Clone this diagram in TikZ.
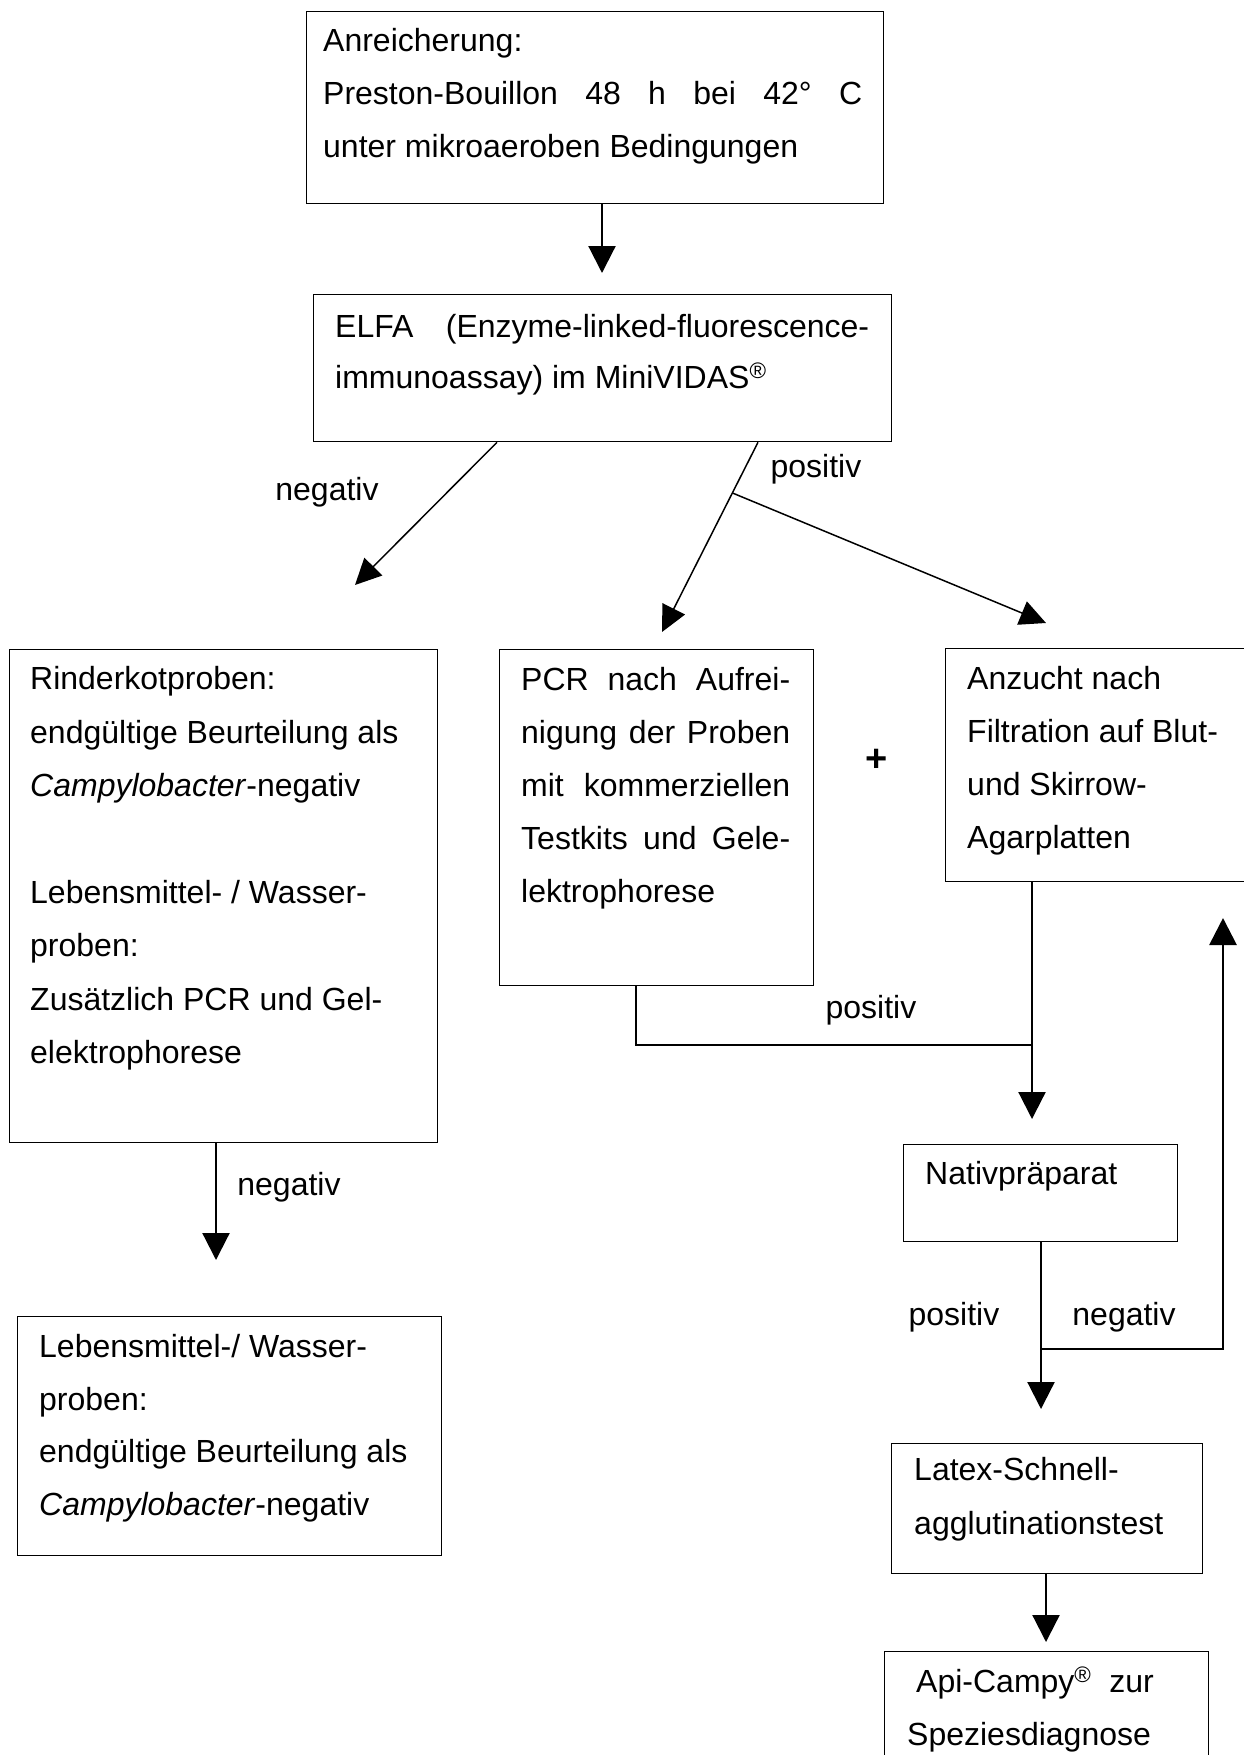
\documentclass[tikz,border=0pt]{standalone}
\usepackage{fontspec}
\setmainfont{Liberation Sans}
\usetikzlibrary{arrows.meta}
% a line of text spread to a given width
\newcommand\justline[2]{\makebox[#1][s]{#2}}
\begin{document}
\begin{tikzpicture}[x=1pt,y=-1pt,
  box/.style={draw, line width=1.3pt, inner sep=0pt, anchor=north west},
  txt/.style={inner sep=0pt, anchor=base west, font=\fontsize{32}{38}\selectfont},
  lbl/.style={inner sep=0pt, anchor=base, font=\fontsize{32}{38}\selectfont},
  arr/.style={line width=2.2pt, -{Triangle[length=27pt,width=27pt]}},
  darr/.style={line width=1.5pt, -{Triangle[length=26pt,width=25pt]}},
  link/.style={line width=2.2pt},
  back/.style={line width=2.8pt, -{Triangle[length=27pt,width=27pt]}}]
\useasboundingbox (0,0) rectangle (1244,1755);
\clip (0,0) rectangle (1244,1755);

% boxes
\node[box, minimum width=577pt, minimum height=192pt] (anr) at (306,11) {};
\node[box, minimum width=578pt, minimum height=147pt] (elfa) at (313,294) {};
\node[box, minimum width=428pt, minimum height=493pt] (rind) at (9,649) {};
\node[box, minimum width=314pt, minimum height=336pt] (pcr) at (499,649) {};
\node[box, minimum width=330pt, minimum height=233pt] (anz) at (945,648) {};
\node[box, minimum width=274pt, minimum height=97pt] (nativ) at (903,1144) {};
\node[box, minimum width=311pt, minimum height=130pt] (latex) at (891,1443) {};
\node[box, minimum width=324pt, minimum height=150pt] (api) at (884,1651) {};
\node[box, minimum width=424pt, minimum height=239pt] (lebm) at (17,1316) {};

% box texts
\node[txt] (anr1) at (323,52) {Anreicherung:};
\node[txt] (anr2) at (323,105) {\justline{539pt}{Preston-Bouillon 48 h bei 42° C}};
\node[txt] (anr3) at (323,158) {unter mikroaeroben Bedingungen};

\node[txt] (elfa1) at (335,337) {\justline{534pt}{ELFA (Enzyme-linked-fluorescence-}};
\node[txt] (elfa2) at (335,388) {immunoassay) im MiniVIDAS\textsuperscript{®}};

\node[txt] (rind1) at (30,689) {Rinderkotproben:};
\node[txt] (rind2) at (30,743) {endgültige Beurteilung als};
\node[txt] (rind3) at (30,796) {\textit{Campylobacter}-negativ};
\node[txt] (rind4) at (30,903) {Lebensmittel- / Wasser-};
\node[txt] (rind5) at (30,956) {proben:};
\node[txt] (rind6) at (30,1010) {Zusätzlich PCR und Gel-};
\node[txt] (rind7) at (30,1063) {elektrophorese};

\node[txt] (pcr1) at (521,690) {\justline{269pt}{PCR nach Aufrei-}};
\node[txt] (pcr2) at (521,743) {\justline{269pt}{nigung der Proben}};
\node[txt] (pcr3) at (521,796) {\justline{269pt}{mit kommerziellen}};
\node[txt] (pcr4) at (521,849) {\justline{269pt}{Testkits und Gele-}};
\node[txt] (pcr5) at (521,902) {lektrophorese};

\node[txt] (anz1) at (967,689) {Anzucht nach};
\node[txt] (anz2) at (967,742) {Filtration auf Blut-};
\node[txt] (anz3) at (967,795) {und Skirrow-};
\node[txt] (anz4) at (967,848) {Agarplatten};

\node[txt] (nativ1) at (925,1184) {Nativpräparat};

\node[txt] (latex1) at (914,1480) {Latex-Schnell-};
\node[txt] (latex2) at (914,1534) {agglutinationstest};

\node[txt] (api1) at (916,1692) {Api-Campy\textsuperscript{®}\ \ zur};
\node[txt] (api2) at (907,1745) {Speziesdiagnose};

\node[txt] (lebm1) at (39,1357) {Lebensmittel-/ Wasser-};
\node[txt] (lebm2) at (39,1410) {proben:};
\node[txt] (lebm3) at (39,1462) {endgültige Beurteilung als};
\node[txt] (lebm4) at (39,1515) {\textit{Campylobacter}-negativ};

% connector labels
\node[lbl] (lneg1) at (327,500) {negativ};
\node[lbl] (lpos1) at (816,477) {positiv};
\node[inner sep=0pt, font=\fontsize{38}{44}\selectfont\bfseries] (lplus) at (877,760) {+};
\node[lbl] (lpos2) at (871,1018) {positiv};
\node[lbl] (lneg2) at (289,1195) {negativ};
\node[lbl] (lpos3) at (954,1325) {positiv};
\node[lbl] (lneg3) at (1124,1325) {negativ};

% connector ends
\coordinate (t1) at (602,273);
\coordinate (t2) at (355,585);
\coordinate (t3) at (662,632);
\coordinate (t4) at (1046,623);
\coordinate (j2) at (1032,1045);
\coordinate (t5) at (1032,1119);
\coordinate (t6) at (1041,1409);
\coordinate (j3) at (1041,1349);
\coordinate (t7) at (1223,918);
\coordinate (t8) at (1046,1642);
\coordinate (t9) at (216,1260);

% connectors
\draw[arr] (anr.south -| t1) -- (t1);
\draw[darr] ([xshift=184pt]elfa.south west) -- (t2);
\draw[darr] ([xshift=445pt]elfa.south west) -- (t3);
\path ([xshift=445pt]elfa.south west) -- (t3) coordinate[pos=0.267] (j1);
\draw[darr] (j1) -- (t4);
\draw[link] ([xshift=137pt]pcr.south west) |- (j2);
\draw[arr] (anz.south -| t5) -- (t5);
\draw[arr] (nativ.south -| t6) -- (t6);
\draw[back] (j3) -| (t7);
\draw[arr] (latex.south -| t8) -- (t8);
\draw[arr] (rind.south -| t9) -- (t9);
\end{tikzpicture}
\end{document}
